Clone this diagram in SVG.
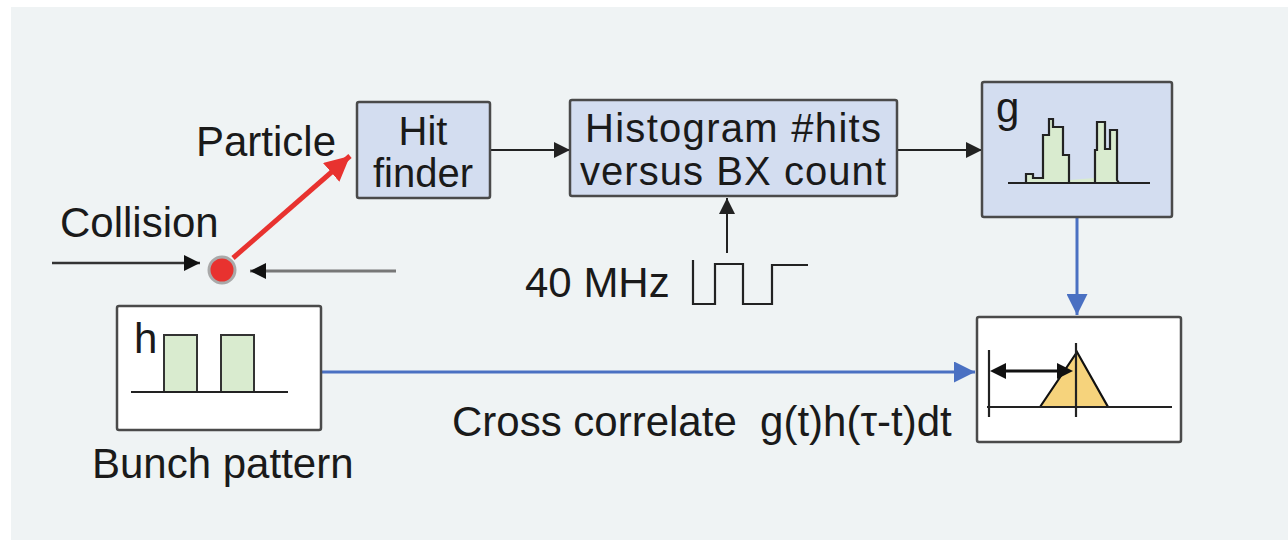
<svg xmlns="http://www.w3.org/2000/svg" width="1288" height="543" viewBox="0 0 1288 543">
<style>
text{font-family:"Liberation Sans",Arial,sans-serif;font-size:42px;fill:#1a1a1a;white-space:pre}
.bt{font-size:40px}
.box{fill:#d3ddf0;stroke:#4a4a4a;stroke-width:2.5}
.wbox{fill:#ffffff;stroke:#4a4a4a;stroke-width:2.5}
.blk{stroke:#222;stroke-width:2;fill:none}
.blue{stroke:#4a70c2;stroke-width:3;fill:none}
.plot{stroke:#222;stroke-width:2.2;fill:none}
</style>
<defs>
<marker id="ahk" viewBox="0 0 10 10" refX="10" refY="5" markerWidth="16" markerHeight="16" markerUnits="userSpaceOnUse" orient="auto"><path d="M0,0 L10,5 L0,10 Z" fill="#111"/></marker>
<marker id="ahg" viewBox="0 0 10 10" refX="10" refY="5" markerWidth="16" markerHeight="16" markerUnits="userSpaceOnUse" orient="auto"><path d="M0,0 L10,5 L0,10 Z" fill="#222"/></marker>
<marker id="ahb" viewBox="0 0 10 10" refX="10" refY="5" markerWidth="7" markerHeight="7" orient="auto"><path d="M0,0 L10,5 L0,10 Z" fill="#4a70c2"/></marker>
<marker id="ahr" viewBox="0 0 10 10" refX="10" refY="5" markerWidth="5" markerHeight="5" orient="auto"><path d="M0,0 L10,5 L0,10 Z" fill="#e8322f"/></marker>
</defs>
<rect x="0" y="0" width="1288" height="543" fill="#ffffff"/>
<rect x="11" y="7" width="1277" height="533" fill="#eff3f4"/>

<g id="connectors">
<line x1="490" y1="150" x2="570" y2="150" class="blk" marker-end="url(#ahg)"/>
<line x1="897" y1="150" x2="982" y2="150" class="blk" marker-end="url(#ahg)"/>
<line x1="727" y1="253" x2="727" y2="198" class="blk" marker-end="url(#ahg)"/>
<line x1="1077" y1="217" x2="1077" y2="315" class="blue" marker-end="url(#ahb)"/>
<line x1="321" y1="372" x2="975" y2="372" class="blue" marker-end="url(#ahb)"/>
<line x1="233" y1="258" x2="350" y2="156" stroke="#e8322f" stroke-width="5" marker-end="url(#ahr)"/>
<line x1="52" y1="263" x2="200" y2="263" stroke="#333" stroke-width="2.5" marker-end="url(#ahk)"/>
<line x1="396" y1="271" x2="250" y2="271" stroke="#777" stroke-width="3" marker-end="url(#ahk)"/>
</g>

<g id="collision">
<circle cx="222" cy="270" r="13" fill="#e8322f" stroke="#a9a9a9" stroke-width="3"/>
<text x="60" y="237">Collision</text>
<text x="196" y="156">Particle</text>
</g>

<g id="hitfinder">
<rect x="357" y="102" width="133" height="96" rx="2" class="box"/>
<text class="bt" x="423" y="145" text-anchor="middle">Hit</text>
<text class="bt" x="423" y="187" text-anchor="middle">finder</text>
</g>

<g id="histogram">
<rect x="570" y="100" width="327" height="96" rx="2" class="box"/>
<text class="bt" x="733" y="142" text-anchor="middle" textLength="296">Histogram #hits</text>
<text class="bt" x="733" y="185" text-anchor="middle" textLength="306">versus BX count</text>
</g>

<g id="clock">
<text x="525" y="297">40 MHz</text>
<polyline points="693,260 693,304 715,304 715,264 743,264 743,304 772,304 772,265 808,265" class="plot"/>
</g>

<g id="gbox">
<rect x="982" y="82" width="190" height="135" rx="2" class="box"/>
<text x="996" y="122">g</text>
<path d="M1026,183 L1026,174 L1033,174 L1033,178 L1043,178 L1043,135 L1049,135 L1049,119 L1053,119 L1053,127 L1063,127 L1063,155 L1069,155 L1069,180 L1095,178 L1095,150 L1097,150 L1097,122 L1105,122 L1105,149 L1110,149 L1110,130 L1117,130 L1117,180 L1119,183 Z" fill="#d9ebcf" stroke="none"/>
<polyline points="1026,183 1026,174 1033,174 1033,178 1043,178 1043,135 1049,135 1049,119 1053,119 1053,127 1063,127 1063,155 1069,155 1069,183 1095,183 1095,150 1097,150 1097,122 1105,122 1105,149 1110,149 1110,130 1117,130 1117,180 1119,183" class="plot"/>
<line x1="1008" y1="183" x2="1150" y2="183" class="plot" stroke="#333"/>
</g>

<g id="bunch">
<rect x="117" y="306" width="204" height="124" rx="2" class="wbox"/>
<text x="134" y="353">h</text>
<rect x="164" y="335" width="33" height="57" fill="#d9ebcf" stroke="#333" stroke-width="2"/>
<rect x="221" y="335" width="33" height="57" fill="#d9ebcf" stroke="#333" stroke-width="2"/>
<line x1="131" y1="392" x2="288" y2="392" class="plot"/>
<text x="92" y="478">Bunch pattern</text>
</g>

<g id="result">
<rect x="977" y="317" width="204" height="125" rx="2" class="wbox"/>
<polygon points="1040,407 1077,352 1108,407" fill="#f6d37c" stroke="#111" stroke-width="2.2"/>
<line x1="987" y1="407" x2="1172" y2="407" class="plot"/>
<line x1="989" y1="350" x2="989" y2="417" class="plot"/>
<line x1="1076" y1="343" x2="1076" y2="417" class="plot"/>
<line x1="1005" y1="371" x2="1060" y2="371" stroke="#111" stroke-width="3"/>
<path d="M990,371 L1006,363 L1006,379 Z" fill="#111"/>
<path d="M1073,371 L1057,363 L1057,379 Z" fill="#111"/>
<text x="452" y="436" xml:space="preserve">Cross correlate  g(t)h(τ-t)dt</text>
</g>
</svg>
